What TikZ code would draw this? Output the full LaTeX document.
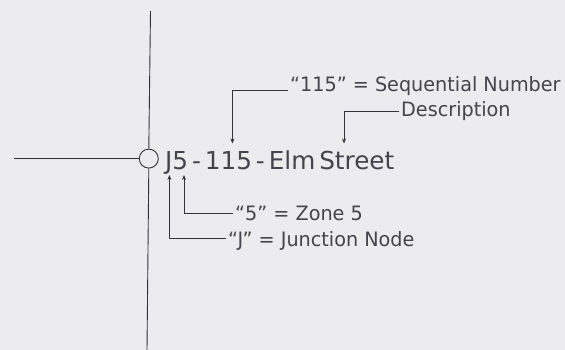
\documentclass[tikz,border=0pt]{standalone}
\usepackage{fontspec}
\setmainfont{DejaVu Sans}
\newfontfamily\bigfont[WordSpace=0.5]{DejaVu Sans}
\newfontfamily\lblfont[FakeStretch=0.97]{DejaVu Sans}
\usetikzlibrary{arrows.meta}
\definecolor{bg}{RGB}{236,236,238}
\definecolor{ink}{RGB}{68,68,76}
\definecolor{wire}{RGB}{50,50,55}
\tikzset{
  lbl/.style={anchor=base west, inner sep=0pt, text=ink, font=\lblfont\fontsize{19.8}{23}\selectfont},
  main/.style={anchor=base west, inner sep=0pt, text=ink, font=\bigfont\fontsize{24.7}{28}\selectfont},
  wireline/.style={draw=wire, line width=0.9pt},
  callout/.style={draw=wire, line width=0.8pt, -{Stealth[length=5pt,width=4pt]}},
}
\begin{document}
\begin{tikzpicture}[x=1pt,y=-1pt]
\useasboundingbox (0,0) rectangle (565,350);
\fill[bg] (0,0) rectangle (565,350);
% pipes and junction
\node[circle, draw=wire, line width=0.9pt, minimum size=19pt, inner sep=0pt] (jn) at (148.8,158.6) {};
\coordinate (ptop) at (150.5,11);
\coordinate (pbot) at (147,350);
\coordinate (pleft) at (14,158.6);
\draw[wireline] (ptop) -- (jn.north);
\draw[wireline] (jn.south) -- (pbot);
\draw[wireline] (pleft) -- (jn.west);
% main label
\node[main] (name) at (165,169) {J5 - 115 - Elm Street};
% callout labels
\node[lbl] (l115) at (290,92) {“115” = Sequential Number};
\node[lbl] (ldesc) at (401,117) {Description};
\node[lbl] (lzone) at (235,220) {“5” = Zone 5};
\node[lbl] (ljunc) at (228,246) {“J” = Junction Node};
% arrow tips
\coordinate (t115) at (232.4,143.5);
\coordinate (tdesc) at (344,143.5);
\coordinate (tzone) at (184,175);
\coordinate (tjunc) at (169.4,175);
\draw[callout] ([xshift=-2pt,yshift=2pt]l115.base west) -| (t115);
\draw[callout] ([xshift=-2pt,yshift=6pt]ldesc.base west) -| (tdesc);
\draw[callout] ([xshift=-2pt,yshift=7pt]lzone.base west) -| (tzone);
\draw[callout] ([xshift=-2pt,yshift=8pt]ljunc.base west) -| (tjunc);
\end{tikzpicture}
\end{document}
